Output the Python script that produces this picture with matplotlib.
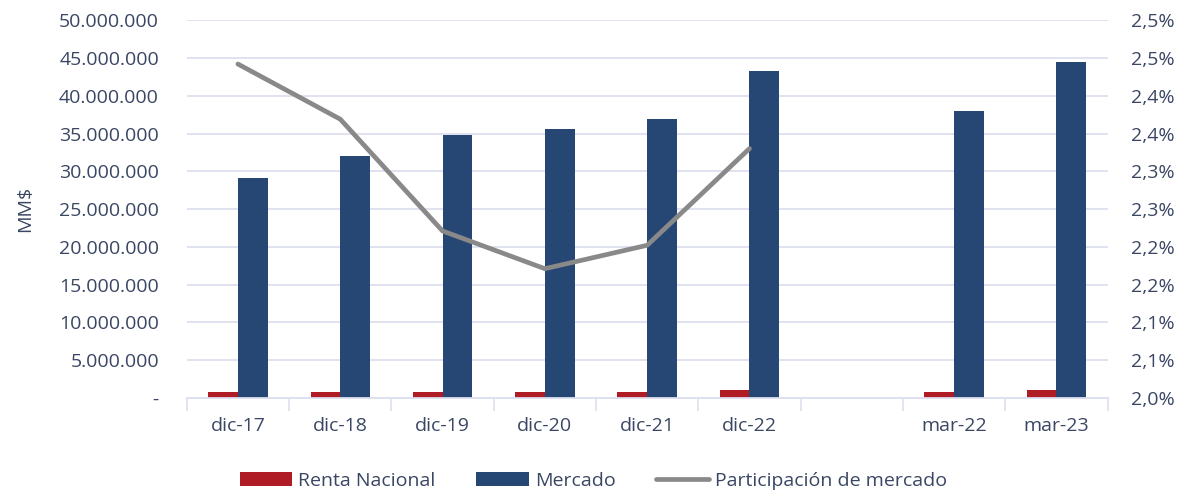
import math
import matplotlib
matplotlib.use("Agg")
import matplotlib.pyplot as plt
import numpy as np
from matplotlib.ticker import FixedLocator, FuncFormatter

# Datos
categorias = ["dic-17", "dic-18", "dic-19", "dic-20", "dic-21", "dic-22", "", "mar-22", "mar-23"]
renta_nacional = [710000, 757000, 772000, 774000, 813000, 1007000, np.nan, 820000, 1000000]
mercado = [29120000, 31970000, 34740000, 35660000, 36930000, 43240000, np.nan, 37960000, 44440000]
participacion = [2.442, 2.369, 2.221, 2.171, 2.202, 2.330, np.nan, np.nan, np.nan]

# Colores
rojo = "#B01C26"
azul = "#264673"
gris = "#898989"
texto = "#3A4663"
rejilla = "#DDE0EE"

plt.rcParams['font.family'] = ['Open Sans', 'DejaVu Sans']
fs = 14

fig, ax = plt.subplots(figsize=(11.82, 4.93), dpi=100)
plt.subplots_adjust(left=0.158, right=0.937, top=0.959, bottom=0.193)
ax2 = ax.twinx()

x = np.arange(len(categorias))
ancho = 0.29
ax.bar(x - ancho / 2, renta_nacional, ancho, color=rojo, label="Renta Nacional", zorder=3)
ax.bar(x + ancho / 2, mercado, ancho, color=azul, label="Mercado", zorder=3)
ax2.plot(x, participacion, color=gris, linewidth=3.4, solid_capstyle='round',
         solid_joinstyle='miter', label="Participación de mercado", zorder=4)

# Eje izquierdo
ax.set_xlim(-0.5, len(categorias) - 0.5)
ax.set_ylim(0, 50000000)
ax.yaxis.set_major_locator(FixedLocator(np.arange(0, 50000001, 5000000)))
ax.yaxis.set_major_formatter(FuncFormatter(
    lambda v, p: "-" if v == 0 else f"{int(v):,}".replace(",", ".")))
ax.set_ylabel("MM$", color=texto, fontsize=fs, labelpad=18)
ax.grid(axis='y', color=rejilla, linewidth=1.3, zorder=0)
ax.tick_params(axis='y', length=0, pad=20, colors=texto, labelsize=fs)

# Eje X con marcas entre categorías
ax.set_xticks(x)
ax.set_xticklabels(categorias)
ax.set_xticks(np.arange(-0.5, len(categorias)), minor=True)
ax.tick_params(axis='x', which='major', length=0, pad=14, colors=texto, labelsize=fs)
ax.tick_params(axis='x', which='minor', length=9, width=1.2, color=rejilla)

# Eje derecho
ax2.set_ylim(2.0, 2.5)
ax2.yaxis.set_major_locator(FixedLocator(np.linspace(2.0, 2.5, 11)))
ax2.yaxis.set_major_formatter(FuncFormatter(
    lambda v, p: f"{math.floor(v * 10 + 0.5 + 1e-9) / 10:.1f}".replace(".", ",") + "%"))
ax2.tick_params(axis='y', length=0, pad=17, colors=texto, labelsize=fs)

for a in (ax, ax2):
    for lado in ['top', 'right', 'left']:
        a.spines[lado].set_visible(False)
    a.spines['bottom'].set_color(rejilla)
    a.spines['bottom'].set_linewidth(1.3)

# Leyenda
h1, l1 = ax.get_legend_handles_labels()
h2, l2 = ax2.get_legend_handles_labels()
fig.legend(h1 + h2, l1 + l2, loc='center', bbox_to_anchor=(0.502, 0.025), ncol=3,
           frameon=False, handlelength=2.7, handleheight=0.75, handletextpad=0.3,
           columnspacing=2.1, labelcolor=texto, fontsize=fs)

plt.savefig("out.png", dpi=100)
